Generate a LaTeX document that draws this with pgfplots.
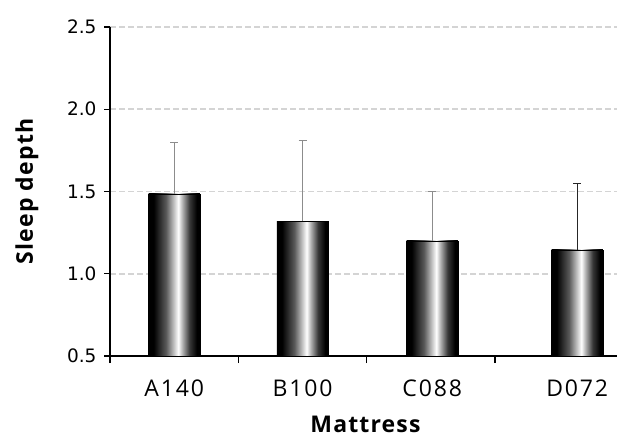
\documentclass[border=0pt]{standalone}
\usepackage{pgfplots}
\pgfplotsset{compat=1.18}
\usepackage{fontspec}
\setmainfont{Open Sans}
\newfontfamily\xtickfont[LetterSpace=8.0]{Open Sans}
\newfontfamily\ytickfont{DejaVu Sans}
\newfontfamily\labelfont[LetterSpace=5.0]{Open Sans}
\definecolor{gridgray}{HTML}{D4D4D4}
\definecolor{errgray}{HTML}{8C8C8C}
\pgfdeclarehorizontalshading{barshade}{100bp}{color(0bp)=(black); color(30bp)=(black); color(42bp)=(black!65); color(50bp)=(black!22); color(54bp)=(white); color(58bp)=(black!30); color(65bp)=(black!78); color(72bp)=(black); color(100bp)=(black)}
\pgfplotsset{
  mybar/.style={ybar, bar width=0.40, bar shift=0pt, draw=black, line width=0.5pt, shading=barshade},
  grayerr/.style={error bars/.cd, y dir=plus, y explicit,
    error bar style={errgray, line width=1.3pt},
    error mark options={rotate=90, mark size=4pt, errgray, line width=1.2pt}},
  blackerr/.style={error bars/.cd, y dir=plus, y explicit,
    error bar style={black!85, line width=1.1pt},
    error mark options={rotate=90, mark size=4pt, black!85, line width=1.1pt}},
}
\begin{document}
\begin{tikzpicture}
\useasboundingbox (0,0) rectangle (617pt,437pt);
\begin{axis}[
  at={(110pt,81pt)}, anchor=south west,
  scale only axis, width=507pt, height=329pt,
  xmin=0, xmax=3.95, ymin=0.5, ymax=2.5,
  axis x line*=bottom, axis y line*=left,
  axis line style={-, line width=1.4pt, black},
  tick align=outside,
  major tick length=6pt, minor tick length=7pt,
  ytick={0.5,1,1.5,2,2.5},
  ytick style={black, line width=1.4pt},
  /pgf/number format/fixed, /pgf/number format/fixed zerofill, /pgf/number format/precision=1,
  /pgf/number format/assume math mode=true,
  yticklabel style={font=\ytickfont\fontsize{18.5}{21}\selectfont, xshift=-4pt},
  xtick={0.5,1.5,2.51,3.64},
  xticklabels={A140,B100,C088,D072},
  major x tick style={draw=none},
  minor xtick={0,1,2,3},
  minor x tick style={black, line width=1.4pt},
  xticklabel style={font=\xtickfont\fontsize{23}{26}\selectfont, yshift=-14pt},
  ymajorgrids,
  grid style={gridgray, line width=1.8pt, dash pattern=on 6pt off 3pt},
  xlabel={Mattress}, ylabel={Sleep depth},
  every axis x label/.style={at={(rel axis cs:0.5,0)}, yshift=-68pt, xshift=2pt, anchor=center, inner sep=0pt, font=\labelfont\bfseries\fontsize{23}{27}\selectfont},
  every axis y label/.style={at={(rel axis cs:0,0.5)}, xshift=-83pt, rotate=90, anchor=center, inner sep=0pt, font=\labelfont\bfseries\fontsize{23}{27}\selectfont},
  clip=false,
]
\addplot[mybar, grayerr] coordinates {(0.5,1.485) +- (0,0.315)};
\addplot[mybar, grayerr] coordinates {(1.5,1.32) +- (0,0.49)};
\addplot[mybar, grayerr] coordinates {(2.51,1.20) +- (0,0.30)};
\addplot[mybar, blackerr] coordinates {(3.64,1.145) +- (0,0.405)};
\end{axis}
\end{tikzpicture}
\end{document}
